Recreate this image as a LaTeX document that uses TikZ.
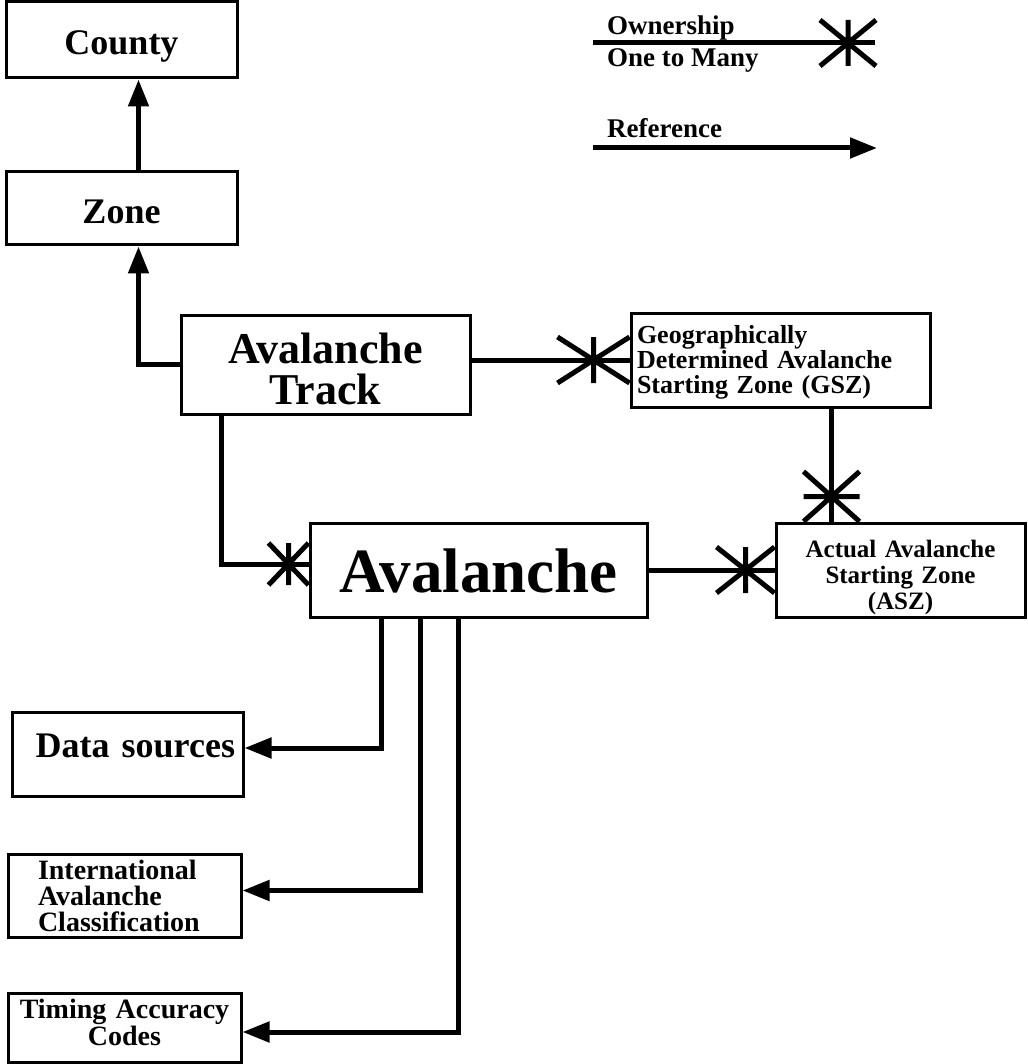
\documentclass[tikz,border=0pt]{standalone}
\usepackage{fontspec}
\setmainfont{Liberation Serif}
\usetikzlibrary{arrows.meta}

\tikzset{
	ownstar/.pic={\draw[line width=5pt] (-1,-1) -- (1,1) (-1,1) -- (1,-1) (0,-1) -- (0,1);},
	ownstarv/.pic={\draw[line width=5pt] (-1,-1) -- (1,1) (-1,1) -- (1,-1) (-1,0) -- (1,0);}
}

\begin{document}
\begin{tikzpicture}[x=1pt,y=-1pt,
		box/.style={draw,line width=3pt,inner sep=0pt},
		refline/.style={line width=5pt,-{Triangle[length=27pt,width=20pt]}},
		ownline/.style={line width=5pt},
		legtext/.style={anchor=base west,inner sep=0pt,font=\bfseries\fontsize{27}{27}\selectfont}]
	\useasboundingbox (0,0) rectangle (1027,1064);
	
	\node[box,minimum width=231pt,minimum height=76pt,text height=30pt,text depth=0pt,font=\bfseries\fontsize{36}{40}\selectfont] (county) at (121.5,40) {County};
	\node[box,minimum width=231pt,minimum height=73pt,text height=30pt,text depth=0pt,font=\bfseries\fontsize{36}{40}\selectfont] (zone) at (121.5,208.5) {Zone};
	\node[box,minimum width=289pt,minimum height=99pt,text width=287pt,align=center,text height=39pt,text depth=42pt,font=\bfseries\fontsize{44}{41}\selectfont] (track) at (325.5,364.5) {Avalanche\\Track};
	\node[box,minimum width=299pt,minimum height=94pt,inner xsep=6pt,text width=287pt,align=left,text height=22pt,text depth=56pt,font=\bfseries\fontsize{26}{25}\selectfont] (gsz) at (780.5,360) {Geographically\\Determined Avalanche\\Starting Zone (GSZ)};
	\node[box,minimum width=337pt,minimum height=94pt,text height=44pt,text depth=0pt,font=\bfseries\fontsize{63}{63}\selectfont] (aval) at (478.5,570) {Avalanche};
	\node[box,minimum width=249pt,minimum height=94pt,text width=247pt,align=center,text height=32pt,text depth=58pt,font=\bfseries\fontsize{25}{26}\selectfont] (asz) at (900.5,570) {Actual Avalanche\\Starting Zone\\(ASZ)};
	\node[box,minimum width=231pt,minimum height=84pt,inner xsep=8pt,text width=215pt,align=right,text height=20pt,text depth=14pt,font=\bfseries\fontsize{36}{36}\selectfont] (datasrc) at (127.5,754) {Data sources};
	\node[box,minimum width=233pt,minimum height=83pt,inner xsep=30pt,text width=173pt,align=left,text height=25pt,text depth=58pt,font=\bfseries\fontsize{28}{26}\selectfont] (iac) at (124.5,895.5) {International\\Avalanche\\Classification};
	\node[box,minimum width=233pt,minimum height=69pt,text width=231pt,align=center,text height=10pt,text depth=29pt,font=\bfseries\fontsize{28}{27}\selectfont] (timing) at (124.5,1027.5) {Timing Accuracy\\Codes};
	
	\draw[refline] ([xshift=17pt]zone.north) -- ([xshift=17pt]county.south);
	\draw[refline] (track.west) -| ([xshift=17pt]zone.south);
	
	\draw[ownline] (track.east |- gsz.west) -- (gsz.west);
	\path (gsz.west) ++(-36,0) pic[xscale=36,yscale=23] {ownstar};
	
	\coordinate (gszfoot) at ([xshift=202pt]gsz.south west);
	\draw[ownline] (gszfoot) -- (gszfoot |- asz.north);
	\path (gszfoot |- asz.north) ++(0,-25) pic[xscale=28,yscale=25] {ownstarv};
	
	\draw[ownline] ([xshift=42pt]track.south west) |- ([yshift=6pt]aval.west);
	\path ([yshift=6pt]aval.west) ++(-20,0) pic[xscale=20,yscale=21] {ownstar};
	
	\draw[ownline] (aval.east) -- (asz.west);
	\path (asz.west) ++(-29,0) pic[xscale=29,yscale=23] {ownstar};
	
	\draw[refline] ([xshift=73pt]aval.south west) |- ([yshift=6pt]datasrc.east);
	\draw[refline] ([xshift=112pt]aval.south west) |- ([yshift=5pt]iac.east);
	\draw[refline] ([xshift=150pt]aval.south west) |- ([yshift=-4.5pt]timing.east);
	
	\node[legtext] (ownlbl) at (607,35) {Ownership};
	\node[legtext] (manylbl) at (607,67) {One to Many};
	\coordinate (ownA) at (593,43);
	\coordinate (ownB) at (875,43);
	\draw[ownline] (ownA) -- (ownB);
	\path (848,43) pic[xscale=28,yscale=23] {ownstar};
	
	\node[legtext] (reflbl) at (607,138) {Reference};
	\coordinate (refA) at (593,148);
	\coordinate (refB) at (877,148);
	\draw[refline] (refA) -- (refB);
\end{tikzpicture}
\end{document}
